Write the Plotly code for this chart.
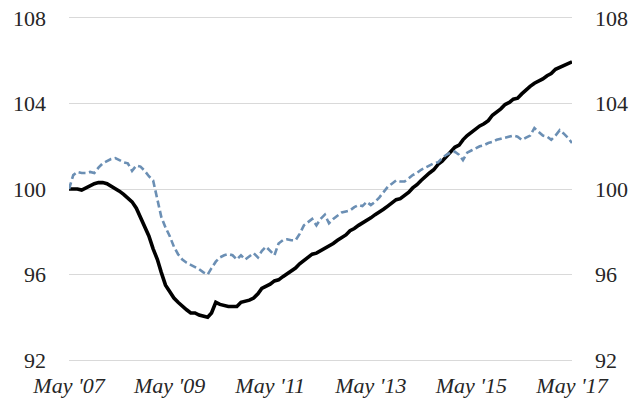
"""Two indexed series (May 2007 = 100), monthly, May 2007 - May 2017."""

import pandas as pd
import plotly.graph_objects as go

months = pd.date_range("2007-05-01", periods=121, freq="MS")

# solid black series
solid_vals = [
    100.0, 100.0, 100.0, 99.95, 100.05, 100.15, 100.25, 100.3, 100.3, 100.25,
    100.15, 100.0, 99.9, 99.75, 99.6, 99.4, 99.1, 98.7, 98.2, 97.8,
    97.2, 96.7, 96.1, 95.5, 95.2, 94.9, 94.7, 94.5, 94.35, 94.2,
    94.2, 94.1, 94.05, 94.0, 94.2, 94.7, 94.6, 94.55, 94.5, 94.5,
    94.5, 94.7, 94.75, 94.8, 94.9, 95.1, 95.35, 95.45, 95.55, 95.7,
    95.75, 95.9, 96.05, 96.2, 96.3, 96.5, 96.65, 96.85, 96.95, 97.0,
    97.1, 97.2, 97.3, 97.45, 97.6, 97.7, 97.85, 98.05, 98.15, 98.3,
    98.4, 98.55, 98.65, 98.8, 98.9, 99.05, 99.2, 99.35, 99.5, 99.55,
    99.7, 99.85, 100.05, 100.2, 100.4, 100.6, 100.75, 100.9, 101.15, 101.3,
    101.5, 101.7, 101.95, 102.05, 102.3, 102.5, 102.65, 102.8, 102.95, 103.05,
    103.2, 103.45, 103.6, 103.75, 103.95, 104.05, 104.2, 104.25, 104.45, 104.65,
    104.8, 104.95, 105.05, 105.15, 105.3, 105.4, 105.6, 105.7, 105.75, 105.85,
    105.95,
]

# dashed blue series
dashed_vals = [
    100.0, 100.65, 100.8, 100.75, 100.75, 100.8, 100.75, 101.0, 101.2, 101.3,
    101.4, 101.45, 101.35, 101.25, 101.2, 100.85, 101.1, 101.05, 100.85, 100.6,
    100.4, 99.5, 98.7, 98.2, 97.8, 97.3, 96.95, 96.7, 96.55, 96.45,
    96.35, 96.25, 96.1, 96.0, 96.3, 96.6, 96.8, 96.9, 96.95, 96.9,
    96.7, 96.9, 96.7, 96.85, 97.0, 96.8, 97.1, 97.3, 97.1, 96.9,
    97.45, 97.6, 97.65, 97.6, 97.6, 97.9, 98.3, 98.45, 98.6, 98.3,
    98.6, 98.8, 98.4, 98.6, 98.75, 98.9, 98.95, 99.0, 99.15, 99.25,
    99.2, 99.4, 99.25, 99.4, 99.6, 99.85, 100.1, 100.25, 100.4, 100.35,
    100.35, 100.5, 100.65, 100.75, 100.9, 101.0, 101.1, 101.2, 101.25, 101.45,
    101.6, 101.7, 101.75, 101.6, 101.35, 101.7, 101.8, 101.9, 102.0, 102.05,
    102.15, 102.2, 102.3, 102.35, 102.4, 102.45, 102.5, 102.45, 102.3, 102.4,
    102.5, 102.85, 102.65, 102.5, 102.45, 102.3, 102.5, 102.75, 102.6, 102.4,
    102.15,
]

tick_dates = pd.date_range("2007-05-01", "2017-05-01", freq="24MS")
tick_text = ["May '07", "May '09", "May '11", "May '13", "May '15", "May '17"]
y_ticks = [92, 96, 100, 104, 108]

FONT = "Liberation Serif, Times New Roman, DejaVu Serif, serif"
TEXT = "#262626"
GRID = "#d9d9d9"

fig = go.Figure()

fig.add_trace(go.Scatter(
    x=months, y=dashed_vals, mode="lines", yaxis="y2",
    line=dict(color="#6B8FB4", width=2.6, dash="7px,3.5px"),
))
fig.add_trace(go.Scatter(
    x=months, y=solid_vals, mode="lines",
    line=dict(color="black", width=3.6),
))

fig.update_layout(
    width=635, height=408,
    margin=dict(l=69, r=63, t=18, b=48),
    paper_bgcolor="white", plot_bgcolor="white",
    showlegend=False,
    font=dict(family=FONT, color=TEXT, size=22),
    xaxis=dict(
        range=[months[0], months[-1]],
        tickvals=tick_dates, ticktext=tick_text,
        tickfont=dict(family=FONT, size=22, style="italic", color=TEXT),
        showgrid=False, zeroline=False,
        # edge lines stand in for the 92 / 108 gridlines
        showline=True, mirror=True, linecolor=GRID, linewidth=1,
        ticks="", ticklabelstandoff=6, automargin=False,
    ),
    yaxis=dict(
        range=[92, 108], tickvals=y_ticks,
        tickfont=dict(family=FONT, size=22, color=TEXT),
        showgrid=True, gridcolor=GRID, gridwidth=1,
        zeroline=False, showline=False, ticks="",
        ticklabelstandoff=22, automargin=False,
    ),
    yaxis2=dict(
        range=[92, 108], tickvals=y_ticks,
        tickfont=dict(family=FONT, size=22, color=TEXT),
        overlaying="y", side="right",
        showgrid=False, zeroline=False, showline=False, ticks="",
        ticklabelstandoff=22, automargin=False,
    ),
)

# the page's default 8px body margin would shift the whole figure
fig.write_html(
    "out.html",
    config={"displayModeBar": False},
    post_script="document.body.style.margin = '0px';",
)
